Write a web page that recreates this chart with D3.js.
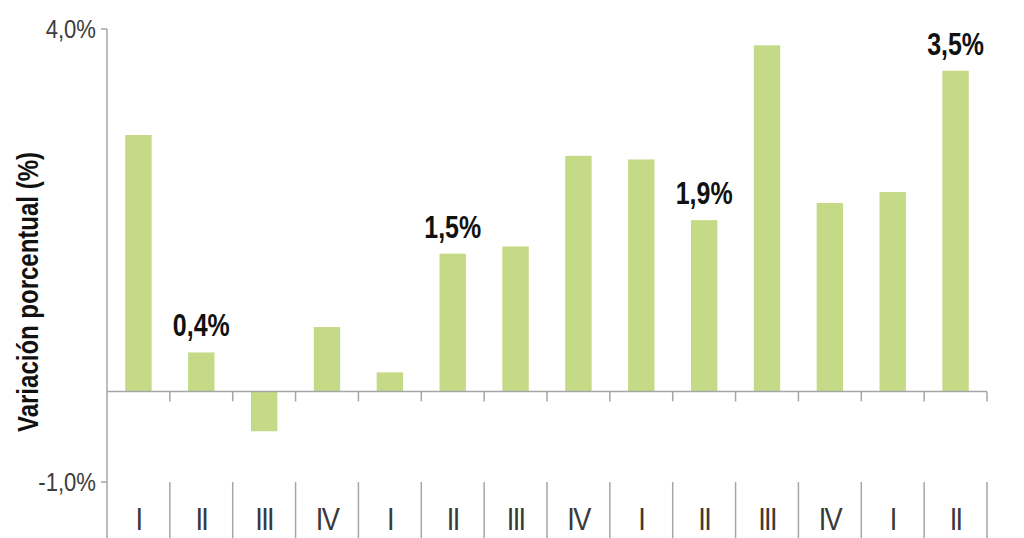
<!DOCTYPE html>
<html>
<head>
<meta charset="utf-8">
<script src="https://cdn.jsdelivr.net/npm/d3@7"></script>
<style>
  html, body { margin: 0; padding: 0; background: #fff; }
  svg { display: block; }
</style>
</head>
<body>
<div id="chart"></div>
<script>
// quarters, four years-ish, last year incomplete
const quarters = ["I", "II", "III", "IV", "I", "II", "III", "IV", "I", "II", "III", "IV", "I", "II"];
const values = [2.83, 0.43, -0.44, 0.71, 0.21, 1.52, 1.6, 2.6, 2.56, 1.89, 3.82, 2.08, 2.2, 3.54];
// only some bars carry a value label
const labelled = [1, 5, 9, 13];
const yTicks = [4, -1];

const width = 1024, height = 538;
const plotLeft = 107, plotRight = 987, plotTop = 29, plotBottom = 482;
const font = "Liberation Sans, Arial, sans-serif";

const svg = d3.select("#chart")
    .append("svg")
    .attr("width", width)
    .attr("height", height);

const x = d3.scaleBand()
    .domain(d3.range(quarters.length))
    .range([plotLeft, plotRight])
    .paddingInner(0.58)
    .paddingOuter(0.29);

const y = d3.scaleLinear()
    .domain([-1, 4])
    .range([plotBottom, plotTop]);

const fmt = v => d3.format(".1f")(v).replace(".", ",") + "%";
const step = x.step();
const axisColor = "#a6a6a6";

// squeeze text horizontally, the original uses a condensed face
const squeeze = (tx, ty, sx) => "translate(" + tx + "," + ty + ") scale(" + sx + ",1)";

// bars
svg.append("g")
    .selectAll("rect")
    .data(values)
    .join("rect")
    .attr("x", (d, i) => x(i))
    .attr("y", d => y(Math.max(0, d)))
    .attr("width", x.bandwidth())
    .attr("height", d => Math.abs(y(d) - y(0)))
    .attr("fill", "#c4da86");

// y axis line
svg.append("line")
    .attr("x1", plotLeft).attr("x2", plotLeft)
    .attr("y1", y(4)).attr("y2", height)
    .attr("stroke", axisColor).attr("stroke-width", 1.5);

// y ticks
const yt = svg.append("g");
yt.selectAll("line")
    .data(yTicks)
    .join("line")
    .attr("x1", plotLeft - 6).attr("x2", plotLeft)
    .attr("y1", d => y(d)).attr("y2", d => y(d))
    .attr("stroke", axisColor).attr("stroke-width", 1.5);
yt.selectAll("text")
    .data(yTicks)
    .join("text")
    .attr("transform", d => squeeze(plotLeft - 11, y(d) + 9, 0.85))
    .attr("text-anchor", "end")
    .attr("font-family", font)
    .attr("font-size", 26)
    .attr("fill", "#3c3c3c")
    .text(d => (d < 0 ? "-" : "") + fmt(Math.abs(d)));

// zero line with small ticks below
svg.append("line")
    .attr("x1", plotLeft).attr("x2", plotRight)
    .attr("y1", y(0)).attr("y2", y(0))
    .attr("stroke", axisColor).attr("stroke-width", 1.5);

const bounds = d3.range(1, quarters.length + 1).map(i => plotLeft + i * step);
svg.append("g")
    .selectAll("line")
    .data(bounds)
    .join("line")
    .attr("x1", d => d).attr("x2", d => d)
    .attr("y1", y(0)).attr("y2", y(0) + 10)
    .attr("stroke", axisColor).attr("stroke-width", 1.5);

// category separators at bottom
svg.append("g")
    .selectAll("line")
    .data(bounds)
    .join("line")
    .attr("x1", d => d).attr("x2", d => d)
    .attr("y1", plotBottom).attr("y2", height)
    .attr("stroke", axisColor).attr("stroke-width", 1.5);

// quarter labels
svg.append("g")
    .selectAll("text")
    .data(quarters)
    .join("text")
    .attr("transform", (d, i) => squeeze(x(i) + x.bandwidth() / 2, 530, 0.85))
    .attr("text-anchor", "middle")
    .attr("font-family", font)
    .attr("font-size", 32)
    .attr("letter-spacing", -2)
    .attr("fill", "#3a3a3a")
    .text(d => d);

// value labels
svg.append("g")
    .selectAll("text")
    .data(labelled)
    .join("text")
    .attr("transform", i => squeeze(x(i) + x.bandwidth() / 2, y(values[i]) - 16, 0.78))
    .attr("text-anchor", "middle")
    .attr("font-family", font)
    .attr("font-weight", "bold")
    .attr("font-size", 32)
    .attr("fill", "#111")
    .text(i => fmt(values[i]));

// axis title
svg.append("text")
    .attr("transform", "translate(38,292) rotate(-90) scale(0.8,1)")
    .attr("text-anchor", "middle")
    .attr("font-family", font)
    .attr("font-weight", "bold")
    .attr("font-size", 30)
    .attr("fill", "#111")
    .text("Variación porcentual (%)");
</script>
</body>
</html>
